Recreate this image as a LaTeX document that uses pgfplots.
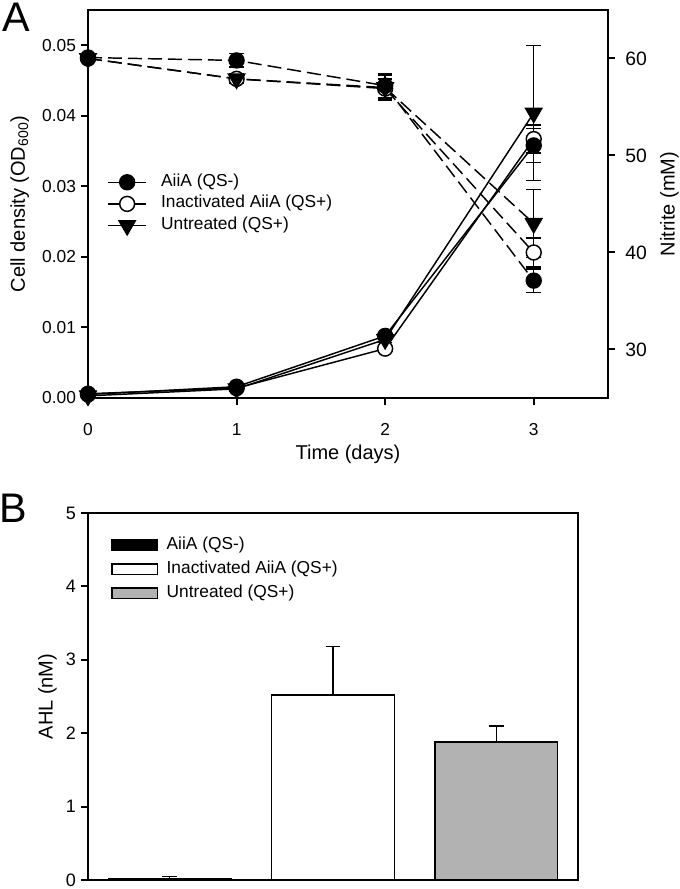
\documentclass[border=0pt]{standalone}
\usepackage{pgfplots}
\pgfplotsset{compat=1.18}
\usepackage{fontspec}
\setmainfont{Liberation Sans}

\tikzset{
  sA/.style={black, line width=1.1pt, mark=*, mark size=5.6pt, mark options={solid, fill=black}},
  sB/.style={black, line width=1.1pt, mark=*, mark size=5.6pt, mark options={solid, fill=white}},
  sC/.style={black, line width=1.1pt, mark=triangle*, mark size=7pt, mark options={solid, fill=black, rotate=180}},
  ndash/.style={dash pattern=on 10.5pt off 4.5pt},
}
\pgfplotsset{
  common/.style={
    scale only axis,
    axis line style={line width=1.5pt},
    tick style={line width=1.5pt, black},
    major tick length=5.5pt,
    tick align=outside,
    tick label style={font=\fontsize{13}{15}\selectfont},
    label style={font=\fontsize{15}{18}\selectfont},
    yticklabel style={anchor=east},
    scaled ticks=false,
    error bars/error bar style={line width=1.1pt, solid},
    error bars/error mark options={rotate=90, mark size=5.5pt, line width=1.1pt, solid},
  },
}

\begin{document}
\begin{tikzpicture}
\useasboundingbox (0,0) rectangle (510pt,666.75pt);

% panel A, cell density
\begin{axis}[common,
  at={(66pt,368.25pt)}, anchor=south west,
  width=390pt, height=291pt,
  xmin=0, xmax=3.5, ymin=0, ymax=0.055,
  xtick={0,1,2,3}, xticklabels={0,1,2,3}, xtick pos=bottom,
  xticklabel style={yshift=-10pt},
  ytick={0,0.01,0.02,0.03,0.04,0.05},
  yticklabels={0.00,0.01,0.02,0.03,0.04,0.05}, ytick pos=left,
  xlabel={Time (days)}, ylabel={Cell density (OD\textsubscript{600})},
  ylabel style={xshift=0pt, yshift=3pt},
  legend cell align=left,
  legend image code/.code={
    \draw[mark repeat=2,mark phase=2,#1] plot coordinates {(0pt,0pt)(14.5pt,0pt)(29pt,0pt)};
    \path[draw=none, fill=none] (0pt,0pt) rectangle (39pt,0pt);},
  legend style={draw=none, fill=none, at={(0.0285,0.59)}, anchor=north west,
    font=\fontsize{13}{15}\selectfont, row sep=0.8pt,
    nodes={inner ysep=1.7pt, inner xsep=1pt, text height=9pt, text depth=3pt}},
]
\addlegendimage{sA}\addlegendentry{AiiA (QS-)}
\addlegendimage{sB}\addlegendentry{Inactivated AiiA (QS+)}
\addlegendimage{sC}\addlegendentry{Untreated (QS+)}

\addplot[sB, forget plot, error bars/.cd, y dir=both, y explicit] coordinates {
  (0,0.0006) +- (0,0.0002) (1,0.0014) +- (0,0.0003) (2,0.0070) +- (0,0.0004) (3,0.0367) +- (0,0.0020)};
\addplot[sC, forget plot, error bars/.cd, y dir=both, y explicit] coordinates {
  (0,0.0003) +- (0,0.0002) (1,0.0013) +- (0,0.0003) (2,0.0083) +- (0,0.0004) (3,0.0404) +- (0,0.0096)};
\addplot[sA, forget plot, error bars/.cd, y dir=both, y explicit] coordinates {
  (0,0.0005) +- (0,0.0002) (1,0.0016) +- (0,0.0003) (2,0.0088) +- (0,0.0004) (3,0.0358) +- (0,0.0024)};
\end{axis}

% panel A, nitrite
\begin{axis}[common,
  at={(66pt,368.25pt)}, anchor=south west,
  width=390pt, height=291pt,
  xmin=0, xmax=3.5, ymin=25, ymax=65,
  axis x line=none, axis y line*=right,
  ytick={30,40,50,60}, yticklabels={30,40,50,60},
  yticklabel style={anchor=west, xshift=4pt, font=\fontsize{14.5}{16}\selectfont},
  ylabel={Nitrite (mM)}, ylabel style={yshift=-3pt},
]
\addplot[sB, ndash, error bars/.cd, y dir=both, y explicit] coordinates {
  (0,60.0) +- (0,0.3) (1,57.9) +- (0,0.4) (2,56.9) +- (0,1.0) (3,40.0) +- (0,1.5)};
\addplot[sC, ndash, error bars/.cd, y dir=both, y explicit] coordinates {
  (0,60.0) +- (0,0.3) (1,57.9) +- (0,0.5) (2,57.0) +- (0,1.3) (3,43.0) +- (0,3.5)};
\addplot[sA, ndash, error bars/.cd, y dir=both, y explicit] coordinates {
  (0,60.1) +- (0,0.3) (1,59.8) +- (0,0.7) (2,57.2) +- (0,1.2) (3,37.1) +- (0,1.2)};
\end{axis}

% panel B
\begin{axis}[common,
  at={(66pt,6.75pt)}, anchor=south west,
  width=367.5pt, height=275.25pt,
  xmin=0.5, xmax=3.5, ymin=0, ymax=5,
  xtick=\empty, ytick={0,1,2,3,4,5}, yticklabels={0,1,2,3,4,5}, ytick pos=left,
  tick label style={font=\fontsize{13.5}{15}\selectfont},
  ylabel={AHL (nM)},
  ybar, bar width=0.75,
  legend cell align=left,
  legend image code/.code={
    \draw[#1, line width=1.1pt] (0pt,-4pt) rectangle (34pt,4pt);
    \path[draw=none, fill=none] (0pt,0pt) rectangle (40pt,0pt);},
  legend style={draw=none, fill=none, at={(0.0388,0.948)}, anchor=north west,
    font=\fontsize{13}{15}\selectfont,
    nodes={inner ysep=1.7pt, inner xsep=1pt, text height=9pt, text depth=3pt}, row sep=2.6pt},
]
\addlegendimage{draw=black, fill=black}\addlegendentry{AiiA (QS-)}
\addlegendimage{draw=black, fill=white}\addlegendentry{Inactivated AiiA (QS+)}
\addlegendimage{draw=black, fill=gray!60}\addlegendentry{Untreated (QS+)}

\addplot[draw=black, fill=black, line width=1.1pt, bar shift=0pt, forget plot,
  error bars/.cd, y dir=plus, y explicit] coordinates {(1,0.02) +- (0,0.03)};
\addplot[draw=black, fill=white, line width=1.1pt, bar shift=0pt, forget plot,
  error bars/.cd, y dir=plus, y explicit] coordinates {(2,2.52) +- (0,0.66)};
\addplot[draw=black, fill=gray!60, line width=1.1pt, bar shift=0pt, forget plot,
  error bars/.cd, y dir=plus, y explicit] coordinates {(3,1.88) +- (0,0.22)};
\end{axis}

\node[font=\fontsize{31}{32}\selectfont] at (12.5pt,654pt) {A};
\node[font=\fontsize{31}{32}\selectfont] at (10pt,285.75pt) {B};
\end{tikzpicture}
\end{document}
